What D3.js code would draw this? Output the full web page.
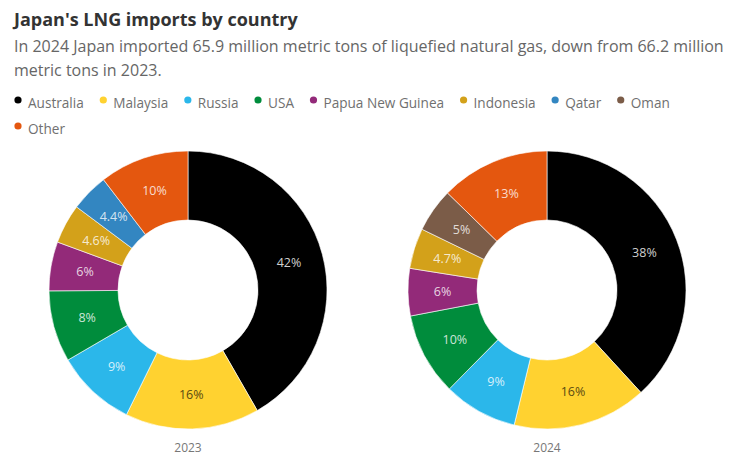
<!DOCTYPE html>
<html>
<head>
<meta charset="utf-8">
<script src="https://cdn.jsdelivr.net/npm/d3@7"></script>
<style>
  body { margin: 0; background: #fff; font-family: "Open Sans", "Noto Sans", sans-serif; }
  svg text { font-family: "Open Sans", "Noto Sans", sans-serif; }
</style>
</head>
<body>
<div id="chart"></div>
<script>
// countries shown in the legend, in order
const countries = ['Australia', 'Malaysia', 'Russia', 'USA', 'Papua New Guinea', 'Indonesia', 'Qatar', 'Oman', 'Other'];
const colors = ['#000000', '#ffd230', '#2bb7ea', '#008c3c', '#932a79', '#d3a11a', '#3386c1', '#7b5c48', '#e4570f'];

const years = ['2023', '2024'];
// share of imports (%) per country, order matches `countries`; 0 = not present
const share2023 = [41.7, 15.6, 9.3, 8.3, 5.7, 4.6, 4.4, 0, 10.4];
const share2024 = [38.2, 15.6, 8.6, 9.6, 5.5, 4.7, 0, 5.1, 12.7];

const title = "Japan's LNG imports by country";
const subtitle = [
  'In 2024 Japan imported 65.9 million metric tons of liquefied natural gas, down from 66.2 million',
  'metric tons in 2023.'
];

const width = 747, height = 471;
const svg = d3.select('#chart').append('svg')
  .attr('width', width)
  .attr('height', height);

svg.append('text')
  .attr('x', 14).attr('y', 26)
  .style('font-size', '18px').style('font-weight', 700)
  .attr('fill', '#333')
  .text(title);

svg.selectAll('.sub')
  .data(subtitle)
  .join('text')
    .attr('class', 'sub')
    .attr('x', 14)
    .attr('y', (d, i) => 52 + i * 24)
    .style('font-size', '16px')
    .attr('fill', '#666')
    .text(d => d);

// legend, wraps onto a second row
const color = d3.scaleOrdinal().domain(countries).range(colors);
let lx = 14, ly = 108;
countries.forEach(c => {
  const g = svg.append('g');
  g.append('circle').attr('cx', lx + 4).attr('cy', ly - 8).attr('r', 3.6).attr('fill', color(c));
  const t = g.append('text').attr('x', lx + 14).attr('y', ly)
    .style('font-size', '13.6px').attr('fill', '#707070').text(c);
  const w = t.node().getComputedTextLength();
  lx += 14 + w + 15.5;
  if (lx > 640) { lx = 14; ly += 26; }
});

const outerR = 139, innerR = 70;
const arc = d3.arc().innerRadius(innerR).outerRadius(outerR);
const pie = d3.pie().sort(null).value(d => d.value);

const fmt = v => v < 5 ? v.toFixed(1) + '%' : Math.round(v) + '%';
const labelColor = c => c === 'Australia' ? '#cfcfcf' : c === 'Malaysia' ? '#5a4a10' : 'rgba(255,255,255,0.8)';

const centers = [188, 547];
[share2023, share2024].forEach((shares, yi) => {
  const data = countries.map((c, i) => ({ country: c, value: shares[i] })).filter(d => d.value > 0);
  const g = svg.append('g').attr('transform', `translate(${centers[yi]},290)`);

  g.selectAll('path')
    .data(pie(data))
    .join('path')
      .attr('d', arc)
      .attr('fill', d => color(d.data.country))
      .attr('stroke', '#fff')
      .attr('stroke-width', 0.6);

  g.selectAll('.lbl')
    .data(pie(data))
    .join('text')
      .attr('class', 'lbl')
      .attr('transform', d => `translate(${arc.centroid(d)})`)
      .attr('dy', '0.35em')
      .attr('text-anchor', 'middle')
      .style('font-size', '12.5px')
      .attr('fill', d => labelColor(d.data.country))
      .text(d => fmt(d.data.value));

  g.append('text')
    .attr('y', outerR + 23)
    .attr('text-anchor', 'middle')
    .style('font-size', '12px')
    .attr('fill', '#777')
    .text(years[yi]);
});
</script>
</body>
</html>
